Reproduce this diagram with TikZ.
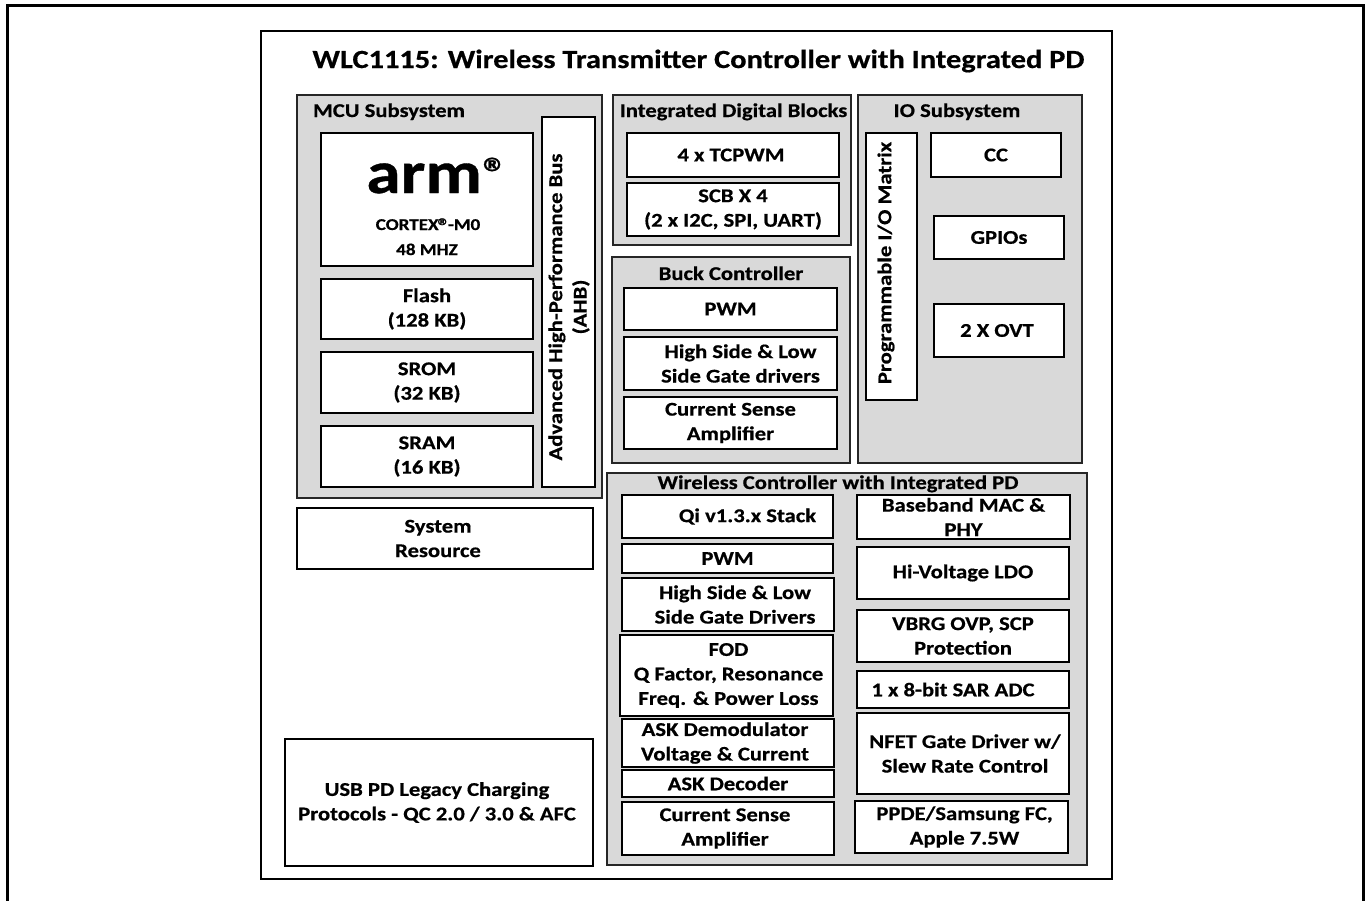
\documentclass[tikz,border=0pt]{standalone}
\usepackage{fontspec}
\setmainfont{Carlito}[FakeStretch=1.16, FakeBold=0.6]
\definecolor{panel}{HTML}{D9D9D9}
\tikzset{
  gbox/.style={draw=black!85, fill=panel, line width=1.6pt, inner sep=0pt},
  wbox/.style={draw=black, fill=white, line width=1.8pt, inner sep=0pt},
  frame/.style={draw=black, line width=2pt, inner sep=0pt},
  txt/.style={font=\bfseries\fontsize{19.5}{24.5}\selectfont, align=center, inner sep=0pt},
  hdr/.style={font=\bfseries\fontsize{19.5}{24.5}\selectfont, inner sep=0pt, anchor=base},
  ttl/.style={font=\bfseries\fontsize{26.2}{30}\selectfont, inner sep=0pt, anchor=base},
}
% \blk{name}{style}{x1}{y1}{x2}{y2}{dx}{text}
\newcommand\blk[8]{%
  \node[#2, minimum width={(#5-#3)*1pt}, minimum height={(#6-#4)*1pt}] (#1) at ({(#3+#5)/2},{(#4+#6)/2}) {};
  \node[txt] (#1-t) at ([xshift=#7pt]#1.center) {#8};}
\newcommand\pnl[6]{%
  \node[#2, minimum width={(#5-#3)*1pt}, minimum height={(#6-#4)*1pt}] (#1) at ({(#3+#5)/2},{(#4+#6)/2}) {};}
\begin{document}
\begin{tikzpicture}[x=1pt,y=-1pt]
\useasboundingbox (0,0) rectangle (1370,900);
% page frame (open at bottom)
\draw[line width=3pt] (7.5,910) -- (7.5,5.5) -- (1363.5,5.5) -- (1363.5,910);
% chip frame
\pnl{chip}{frame}{261}{31}{1112}{879}
\node[ttl] (title) at (698.5,68) {WLC1115: Wireless Transmitter Controller with Integrated PD};

% MCU subsystem
\pnl{mcu}{gbox}{297}{95}{602}{498}
\node[hdr] (mcu-h) at (389,117) {MCU Subsystem};
\pnl{armbox}{wbox}{321}{133}{533}{266}
\node[inner sep=0pt, anchor=base, font=\bfseries\fontsize{60}{60}\selectfont] (arm) at (437,193) {arm\hspace{1pt}{\fontsize{42}{42}\selectfont\raisebox{6pt}{®}}};
\node[inner sep=0pt, anchor=base, font=\bfseries\fontsize{16.5}{20}\selectfont] (cortex) at (428,230) {CORTEX\kern-1pt{\fontsize{21}{21}\selectfont\raisebox{-3pt}{®}}\kern-2pt-M0};
\node[inner sep=0pt, anchor=base, font=\bfseries\fontsize{16.5}{20}\selectfont] (mhz) at (427,255) {48 MHZ};
\blk{flash}{wbox}{321}{279}{533}{339}{0}{Flash\\(128 KB)}
\blk{srom}{wbox}{321}{352}{533}{413}{0}{SROM\\(32 KB)}
\blk{sram}{wbox}{321}{426}{533}{487}{0}{SRAM\\(16 KB)}
\pnl{ahb}{wbox}{542}{117}{595}{487}
\node[txt, rotate=90] (ahb-t) at (569,307) {Advanced High-Performance Bus\\(AHB)};
\blk{sysres}{wbox}{297}{508}{593}{569}{-7}{System\\Resource}
\blk{usb}{wbox}{285}{739}{593}{866}{-2}{USB PD Legacy Charging\\Protocols - QC 2.0 / 3.0 \& AFC}

% Integrated digital blocks
\pnl{idb}{gbox}{613}{95}{851}{245}
\node[hdr] (idb-h) at (733.5,117) {Integrated Digital Blocks};
\blk{tcpwm}{wbox}{627}{133}{839}{177}{-2}{4 x TCPWM}
\blk{scb}{wbox}{627}{183}{839}{236}{0}{SCB X 4\\(2 x I2C, SPI, UART)}

% Buck controller
\pnl{buck}{gbox}{612}{257}{850}{463}
\node[hdr] (buck-h) at (731,280) {Buck Controller};
\blk{bpwm}{wbox}{624}{288}{837}{330}{0}{PWM}
\blk{bhs}{wbox}{624}{337}{837}{390}{10}{High Side \& Low\\Side Gate drivers}
\blk{bcs}{wbox}{624}{397}{837}{449}{0}{Current Sense\\Amplifier}

% IO subsystem
\pnl{io}{gbox}{858}{95}{1082}{463}
\node[hdr] (io-h) at (957,117) {IO Subsystem};
\pnl{pio}{wbox}{866}{133}{917}{400}
\node[txt, rotate=90] (pio-t) at (886,263) {Programmable I/O Matrix};
\blk{cc}{wbox}{931}{133}{1061}{177}{0}{CC}
\blk{gpio}{wbox}{934}{216}{1064}{259}{0}{GPIOs}
\blk{ovt}{wbox}{934}{304}{1064}{357}{-2}{2 X OVT}

% Wireless controller
\pnl{wl}{gbox}{607}{473}{1087}{865}
\node[hdr] (wl-h) at (838,489) {Wireless Controller with Integrated PD};
\blk{qi}{wbox}{622}{495}{833}{538}{20}{Qi v1.3.x Stack}
\blk{wpwm}{wbox}{622}{544}{833}{573}{0}{PWM}
\blk{whs}{wbox}{622}{578}{834}{631}{7}{High Side \& Low\\Side Gate Drivers}
\blk{fod}{wbox}{620}{635}{833}{716}{2}{FOD\\Q Factor, Resonance\\Freq. \& Power Loss}
\blk{askd}{wbox}{622}{719}{834}{767}{-3}{ASK Demodulator\\Voltage \& Current}
\blk{askdec}{wbox}{622}{770}{834}{797}{0}{ASK Decoder}
\blk{wcs}{wbox}{622}{802}{834}{855}{-3}{Current Sense\\Amplifier}
\blk{bb}{wbox}{857}{495}{1070}{539}{0}{Baseband MAC \&\\PHY}
\blk{ldo}{wbox}{857}{547}{1069}{599}{0}{Hi-Voltage LDO}
\blk{vbrg}{wbox}{857}{610}{1069}{662}{0}{VBRG OVP, SCP\\Protection}
\blk{adc}{wbox}{857}{671}{1069}{708}{-10}{1 x 8-bit SAR ADC}
\blk{nfet}{wbox}{857}{713}{1069}{794}{2}{NFET Gate Driver w/\\Slew Rate Control}
\blk{ppde}{wbox}{855}{801}{1068}{853}{3}{PPDE/Samsung FC,\\Apple 7.5W}
\end{tikzpicture}
\end{document}
